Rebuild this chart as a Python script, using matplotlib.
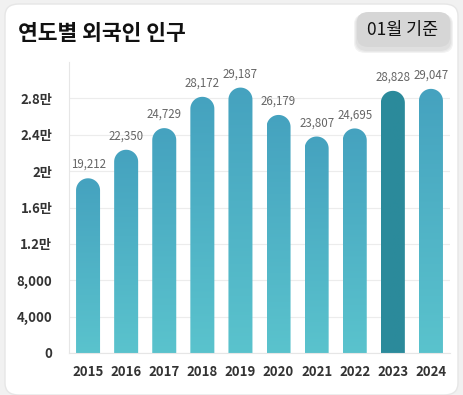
import numpy as np
import matplotlib.pyplot as plt
from matplotlib.patches import FancyBboxPatch, PathPatch
from matplotlib.path import Path
from matplotlib.colors import LinearSegmentedColormap

plt.rcParams['font.family'] = ['Noto Sans CJK KR', 'DejaVu Sans']

years = ['2015', '2016', '2017', '2018', '2019', '2020', '2021', '2022', '2023', '2024']
values = [19212, 22350, 24729, 28172, 29187, 26179, 23807, 24695, 28828, 29047]
yticks = [0, 4000, 8000, 12000, 16000, 20000, 24000, 28000]
ytick_labels = ['0', '4,000', '8,000', '1.2만', '1.6만', '2만', '2.4만', '2.8만']
highlight = '2023'

W, H = 463, 395
fig = plt.figure(figsize=(W / 100, H / 100), dpi=100)
fig.patch.set_facecolor('#f1f1f1')

# white card
card = FancyBboxPatch((5 / W, 0), (W - 10) / W, (H - 4) / H,
                      boxstyle='round,pad=0,rounding_size=0.03',
                      transform=fig.transFigure, fc='white', ec='#e6e6e6', lw=1, zorder=-10)
fig.patches.append(card)

fig.text(18 / W, 1 - 33 / H, '연도별 외국인 인구', fontsize=15.5, fontweight='bold',
         color='#111111', va='center', ha='left')

# badge with soft shadow
for i, a in enumerate([0.04, 0.04, 0.05]):
    sh = FancyBboxPatch(((357 - 1 - i) / W, 1 - (49 + 2 + i) / H), (93 + 2 + 2 * i) / W, (35 + 2 + i) / H,
                        boxstyle='round,pad=0,rounding_size=0.025', transform=fig.transFigure,
                        fc='black', ec='none', alpha=a, zorder=-5)
    fig.patches.append(sh)
badge = FancyBboxPatch((357 / W, 1 - 47 / H), 93 / W, 35 / H,
                       boxstyle='round,pad=0,rounding_size=0.025',
                       transform=fig.transFigure, fc='#d6d6d6', ec='none', zorder=-4)
fig.patches.append(badge)
fig.text(403 / W, 1 - 30 / H, '01월 기준', fontsize=12.5, color='#111111', ha='center', va='center')

ax = fig.add_axes([69 / W, (H - 353) / H, 381 / W, 291 / H])
ax.set_facecolor('none')
ymax = 32000
ax.set_xlim(-0.5, len(years) - 0.5)
ax.set_ylim(0, ymax)

x = np.arange(len(years))
width = 0.63
bars = ax.bar(x, values, width=width, color='none')

# rounded-top radius in data units
px_per_x = 381 / len(years)
px_per_y = 291 / ymax
r_px = width * px_per_x / 2
ry = r_px / px_per_y

cmap = LinearSegmentedColormap.from_list('g', ['#5ac3cd', '#45a2bf'])
cmap_hi = LinearSegmentedColormap.from_list('h', ['#2b8b9b', '#2b8a9b'])
grad = np.linspace(0, 1, 256).reshape(-1, 1)

for b, yr, v in zip(bars, years, values):
    x0 = b.get_x()
    x1 = x0 + b.get_width()
    cx = (x0 + x1) / 2
    rx = b.get_width() / 2
    t = np.linspace(0, np.pi, 40)
    arc = np.column_stack([cx + rx * np.cos(t), v - ry + ry * np.sin(t)])
    verts = np.vstack([[x1, 0], arc, [x0, 0], [x1, 0]])
    codes = [Path.MOVETO] + [Path.LINETO] * (len(verts) - 2) + [Path.CLOSEPOLY]
    clip = PathPatch(Path(verts, codes), transform=ax.transData, fc='none', ec='none')
    ax.add_patch(clip)
    im = ax.imshow(grad, extent=[x0, x1, 0, v], origin='lower', aspect='auto',
                   cmap=cmap_hi if yr == highlight else cmap, zorder=2)
    im.set_clip_path(clip)
    ax.text(cx, v + 800, f'{v:,}', ha='center', va='bottom', fontsize=8.3, color='#666666')

ax.set_yticks(yticks)
ax.set_yticklabels(ytick_labels)
ax.set_xticks(x)
ax.set_xticklabels(years)
ax.tick_params(length=0, labelsize=9.5, labelcolor='#333333')
ax.tick_params(axis='y', pad=12)
ax.tick_params(axis='x', pad=9)
for lb in ax.get_xticklabels() + ax.get_yticklabels():
    lb.set_fontweight('bold')
ax.grid(axis='y', color='#ececec', lw=0.8, zorder=0)
ax.set_axisbelow(True)
for s in ['top', 'right']:
    ax.spines[s].set_visible(False)
ax.spines['left'].set_color('#e6e6e6')
ax.spines['bottom'].set_color('#e6e6e6')

fig.savefig('out.png', dpi=100, facecolor=fig.get_facecolor())
